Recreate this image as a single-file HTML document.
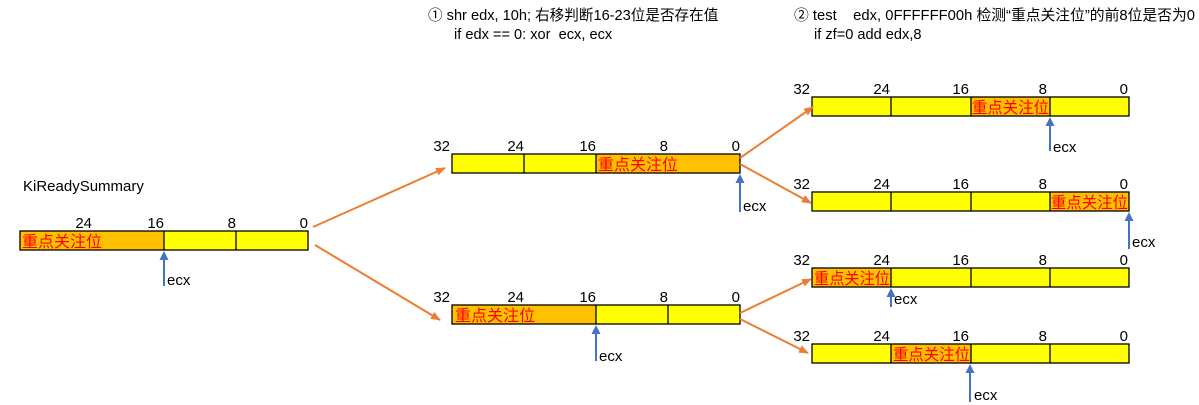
<!DOCTYPE html>
<html><head><meta charset="utf-8"><style>
html,body{margin:0;padding:0;background:#fff;}
svg{display:block;}
text{font-family:"Liberation Sans","Noto Sans CJK SC",sans-serif;font-size:15px;fill:#000;}
.r{fill:#ff0000;font-size:16px;}
.t{font-size:14.6px;}
.n{text-anchor:end;}
</style></head><body>
<svg width="1199" height="405" viewBox="0 0 1199 405" xmlns="http://www.w3.org/2000/svg">
<defs>
<marker id="oa" markerWidth="10" markerHeight="8" refX="9" refY="4" orient="auto" markerUnits="userSpaceOnUse"><path d="M0,0 L10,4 L0,8 Z" fill="#ED7D31"/></marker>
</defs>

<!-- titles -->
<text class="t" x="428" y="20">① shr edx, 10h; 右移判断16-23位是否存在值</text>
<text class="t" x="454" y="39">if edx == 0: xor&#160; ecx, ecx</text>
<text class="t" x="794" y="20" textLength="401" lengthAdjust="spacingAndGlyphs">② test&#160;&#160;&#160; edx, 0FFFFFF00h 检测“重点关注位”的前8位是否为0</text>
<text class="t" x="814" y="39">if zf=0 add edx,8</text>

<text x="23" y="191">KiReadySummary</text>

<!-- main box -->
<rect x="20" y="231" width="144" height="19" fill="#FFC000"/>
<rect x="164" y="231" width="144" height="19" fill="#FFFF00"/>
<rect x="20" y="231" width="288" height="19" fill="none" stroke="#000" stroke-width="1.3"/>
<line x1="164" y1="231" x2="164" y2="250" stroke="#000" stroke-width="1.3"/>
<line x1="236" y1="231" x2="236" y2="250" stroke="#000" stroke-width="1.3"/>
<text class="r" x="22" y="247">重点关注位</text>
<text class="n" x="92" y="228">24</text><text class="n" x="164" y="228">16</text><text class="n" x="236" y="228">8</text><text class="n" x="308" y="228">0</text>

<!-- mid top -->
<rect x="452" y="154" width="144" height="19" fill="#FFFF00"/>
<rect x="596" y="154" width="144" height="19" fill="#FFC000"/>
<rect x="452" y="154" width="288" height="19" fill="none" stroke="#000" stroke-width="1.3"/>
<line x1="524" y1="154" x2="524" y2="173" stroke="#000" stroke-width="1.3"/>
<line x1="596" y1="154" x2="596" y2="173" stroke="#000" stroke-width="1.3"/>
<text class="r" x="598" y="170">重点关注位</text>
<text class="n" x="450" y="151">32</text><text class="n" x="524" y="151">24</text><text class="n" x="596" y="151">16</text><text class="n" x="668" y="151">8</text><text class="n" x="740" y="151">0</text>

<!-- mid bottom -->
<rect x="452" y="305" width="144" height="19" fill="#FFC000"/>
<rect x="596" y="305" width="144" height="19" fill="#FFFF00"/>
<rect x="452" y="305" width="288" height="19" fill="none" stroke="#000" stroke-width="1.3"/>
<line x1="596" y1="305" x2="596" y2="324" stroke="#000" stroke-width="1.3"/>
<line x1="668" y1="305" x2="668" y2="324" stroke="#000" stroke-width="1.3"/>
<text class="r" x="455" y="321">重点关注位</text>
<text class="n" x="450" y="302">32</text><text class="n" x="524" y="302">24</text><text class="n" x="596" y="302">16</text><text class="n" x="668" y="302">8</text><text class="n" x="740" y="302">0</text>

<!-- right boxes -->
<g stroke-width="1.3">
<rect x="812" y="97" width="317" height="19" fill="#FFFF00"/>
<rect x="971" y="97" width="79" height="19" fill="#FFC000"/>
<rect x="812" y="97" width="317" height="19" fill="none" stroke="#000"/>
<line x1="891" y1="97" x2="891" y2="116" stroke="#000"/><line x1="971" y1="97" x2="971" y2="116" stroke="#000"/><line x1="1050" y1="97" x2="1050" y2="116" stroke="#000"/>

<rect x="812" y="192" width="317" height="19" fill="#FFFF00"/>
<rect x="1050" y="192" width="79" height="19" fill="#FFC000"/>
<rect x="812" y="192" width="317" height="19" fill="none" stroke="#000"/>
<line x1="891" y1="192" x2="891" y2="211" stroke="#000"/><line x1="971" y1="192" x2="971" y2="211" stroke="#000"/><line x1="1050" y1="192" x2="1050" y2="211" stroke="#000"/>

<rect x="812" y="268" width="317" height="19" fill="#FFFF00"/>
<rect x="812" y="268" width="79" height="19" fill="#FFC000"/>
<rect x="812" y="268" width="317" height="19" fill="none" stroke="#000"/>
<line x1="891" y1="268" x2="891" y2="287" stroke="#000"/><line x1="971" y1="268" x2="971" y2="287" stroke="#000"/><line x1="1050" y1="268" x2="1050" y2="287" stroke="#000"/>

<rect x="812" y="344" width="317" height="19" fill="#FFFF00"/>
<rect x="891" y="344" width="80" height="19" fill="#FFC000"/>
<rect x="812" y="344" width="317" height="19" fill="none" stroke="#000"/>
<line x1="891" y1="344" x2="891" y2="363" stroke="#000"/><line x1="971" y1="344" x2="971" y2="363" stroke="#000"/><line x1="1050" y1="344" x2="1050" y2="363" stroke="#000"/>
</g>
<text class="r" x="972" y="113" textLength="77" lengthAdjust="spacingAndGlyphs">重点关注位</text>
<text class="r" x="1051" y="208" textLength="77" lengthAdjust="spacingAndGlyphs">重点关注位</text>
<text class="r" x="814" y="284" textLength="76" lengthAdjust="spacingAndGlyphs">重点关注位</text>
<text class="r" x="893" y="360" textLength="77" lengthAdjust="spacingAndGlyphs">重点关注位</text>

<g>
<text class="n" x="810" y="94">32</text><text class="n" x="890" y="94">24</text><text class="n" x="969" y="94">16</text><text class="n" x="1047" y="94">8</text><text class="n" x="1128" y="94">0</text>
<text class="n" x="810" y="189">32</text><text class="n" x="890" y="189">24</text><text class="n" x="969" y="189">16</text><text class="n" x="1047" y="189">8</text><text class="n" x="1128" y="189">0</text>
<text class="n" x="810" y="265">32</text><text class="n" x="890" y="265">24</text><text class="n" x="969" y="265">16</text><text class="n" x="1047" y="265">8</text><text class="n" x="1128" y="265">0</text>
<text class="n" x="810" y="341">32</text><text class="n" x="890" y="341">24</text><text class="n" x="969" y="341">16</text><text class="n" x="1047" y="341">8</text><text class="n" x="1128" y="341">0</text>
</g>

<!-- orange arrows -->
<g stroke="#ED7D31" stroke-width="2" fill="none" marker-end="url(#oa)">
<line x1="313" y1="227" x2="445" y2="168"/>
<line x1="315" y1="245" x2="440" y2="320"/>
<line x1="740" y1="158" x2="813" y2="107"/>
<line x1="740" y1="164" x2="811" y2="203"/>
<line x1="740" y1="313" x2="811" y2="279"/>
<line x1="740" y1="319" x2="808" y2="353"/>
</g>

<!-- blue ecx arrows -->
<g stroke="#4472C4" stroke-width="2">
<line x1="164" y1="286" x2="164" y2="258"/>
<line x1="740" y1="212" x2="740" y2="181"/>
<line x1="596" y1="361" x2="596" y2="332"/>
<line x1="1050" y1="151" x2="1050" y2="124"/>
<line x1="1129" y1="249" x2="1129" y2="219"/>
<line x1="891" y1="307" x2="891" y2="295"/>
<line x1="970" y1="402" x2="970" y2="371"/>
</g>
<g fill="#4472C4">
<polygon points="164,251 159.5,260 168.5,260"/>
<polygon points="740,174 735.5,183 744.5,183"/>
<polygon points="596,325 591.5,334 600.5,334"/>
<polygon points="1050,117 1045.5,126 1054.5,126"/>
<polygon points="1129,212 1124.5,221 1133.5,221"/>
<polygon points="891,288 886.5,297 895.5,297"/>
<polygon points="970,364 965.5,373 974.5,373"/>
</g>
<text x="167" y="285">ecx</text>
<text x="743" y="211">ecx</text>
<text x="599" y="361">ecx</text>
<text x="1053" y="152">ecx</text>
<text x="1132" y="247">ecx</text>
<text x="894" y="304">ecx</text>
<text x="974" y="400">ecx</text>
</svg>
</body></html>
